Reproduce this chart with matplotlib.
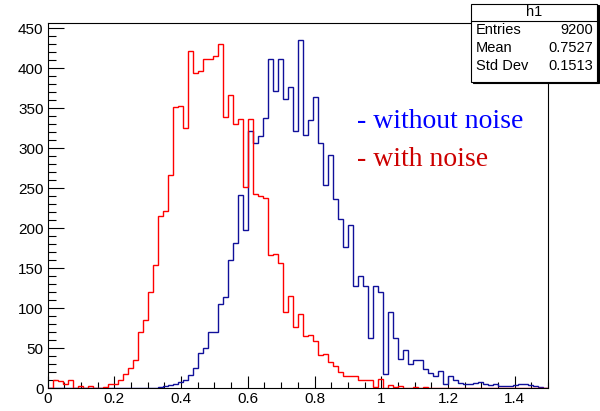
import numpy as np
import matplotlib
matplotlib.use("Agg")
import matplotlib.pyplot as plt
from matplotlib.ticker import MultipleLocator, FormatStrFormatter
from matplotlib.patches import Rectangle

# ---- data (100 bins from 0 to 1.5) ----
x_min, x_max, n_bins = 0.0, 1.5, 100

with_noise = [
    0, 11, 9, 6, 10, 1, 3, 1, 3, 1,
    1, 2, 6, 6, 10, 18, 25, 35, 70, 86,
    120, 154, 215, 222, 266, 352, 353, 325, 422, 394,
    397, 412, 412, 415, 430, 339, 367, 330, 337, 252,
    337, 243, 240, 238, 166, 168, 157, 95, 115, 77,
    93, 65, 67, 59, 42, 43, 33, 28, 21, 15,
    15, 15, 11, 11, 10, 2, 12, 0, 4, 2,
    3, 1, 1, 2, 0, 2, 0, 1, 0, 0,
    1, 0, 1, 0, 0, 1, 0, 0, 0, 1,
    1, 0, 0, 0, 0, 1, 0, 0, 0, 0,
]

without_noise = [
    0, 0, 0, 0, 0, 0, 0, 0, 0, 0,
    0, 0, 0, 0, 0, 0, 0, 0, 0, 0,
    0, 1, 2, 3, 4, 6, 8, 11, 17, 25,
    44, 50, 70, 70, 105, 114, 160, 181, 241, 198,
    321, 306, 315, 338, 412, 372, 411, 362, 377, 322,
    435, 317, 335, 364, 307, 254, 291, 236, 212, 176,
    204, 128, 140, 128, 63, 128, 120, 18, 95, 63,
    37, 48, 30, 36, 36, 24, 19, 15, 22, 5,
    16, 10, 7, 6, 5, 7, 8, 5, 4, 5,
    3, 3, 3, 4, 5, 5, 4, 3, 2, 1,
]

stat_title = "h1"
stat_names = ["Entries", "Mean", "Std Dev"]
stat_values = ["9200", "0.7527", "0.1513"]
label_without = "- without noise"
label_with = "- with noise"

# ---- figure ----
W, H = 600, 411
fig = plt.figure(figsize=(W / 100, H / 100), dpi=100)
fig.patch.set_facecolor("white")

left, right = 47.7 / W, 548 / W
bottom, top = (H - 388.3) / H, (H - 22.9) / H
ax = fig.add_axes([left, bottom, right - left, top - bottom])

edges = np.linspace(x_min, x_max, n_bins + 1)
ymax = max(max(without_noise), max(with_noise)) * 1.05

ax.stairs(without_noise, edges, baseline=0, fill=False, color="#10109a", lw=1.0, zorder=3)
ax.stairs(with_noise, edges, baseline=0, fill=False, color="#ff0000", lw=1.0, zorder=4)

ax.set_xlim(x_min, x_max)
ax.set_ylim(0, ymax)

ax.xaxis.set_major_locator(MultipleLocator(0.2))
ax.xaxis.set_minor_locator(MultipleLocator(0.05))
ax.yaxis.set_major_locator(MultipleLocator(50))
ax.yaxis.set_minor_locator(MultipleLocator(10))
ax.xaxis.set_major_formatter(FormatStrFormatter("%g"))
ax.yaxis.set_major_formatter(FormatStrFormatter("%g"))

ax.tick_params(axis="both", which="both", direction="in", top=False, right=False,
               labelsize=11, width=0.8, colors="black")
ax.tick_params(axis="x", which="major", length=8.6, pad=3)
ax.tick_params(axis="x", which="minor", length=4.3)
ax.tick_params(axis="y", which="major", length=11.3, pad=3)
ax.tick_params(axis="y", which="minor", length=5.8)
for lab in ax.get_xticklabels() + ax.get_yticklabels():
    lab.set_fontfamily(["Liberation Sans", "DejaVu Sans"])
for sp in ax.spines.values():
    sp.set_linewidth(0.8)
    sp.set_color("black")

# legend-like texts
fig.text(357 / W, (H - 121) / H, label_without, color="#0000ff", fontsize=20,
         family=["Liberation Serif", "DejaVu Serif"], va="center", ha="left")
fig.text(357 / W, (H - 160) / H, label_with, color="#cc0000", fontsize=20,
         family=["Liberation Serif", "DejaVu Serif"], va="center", ha="left")

# stats box
bx0, bx1 = 471 / W, 597 / W
by0, by1 = (H - 82) / H, (H - 4) / H
fig.patches.append(Rectangle((bx0 + 1.5 / W, by0 - 1.5 / H), bx1 - bx0, by1 - by0,
                             transform=fig.transFigure, facecolor="black",
                             edgecolor="black", lw=0.8, zorder=9))
fig.patches.append(Rectangle((bx0, by0), bx1 - bx0, by1 - by0,
                             transform=fig.transFigure, facecolor="white",
                             edgecolor="black", lw=0.8, zorder=10))
fig.add_artist(plt.Line2D([bx0, bx1], [(H - 21) / H, (H - 21) / H],
                          transform=fig.transFigure, color="black", lw=0.8, zorder=11))
sfam = ["Liberation Sans", "DejaVu Sans"]
fig.text((bx0 + bx1) / 2, (H - 12.5) / H, stat_title, ha="center", va="center",
         fontsize=10.5, family=sfam, zorder=12)
for i, (n, v) in enumerate(zip(stat_names, stat_values)):
    yy = (H - (30.5 + 17.5 * i)) / H
    fig.text(476 / W, yy, n, ha="left", va="center", fontsize=10.5, family=sfam, zorder=12)
    fig.text(593 / W, yy, v, ha="right", va="center", fontsize=10.5, family=sfam, zorder=12)

fig.savefig("out.png", dpi=100)
